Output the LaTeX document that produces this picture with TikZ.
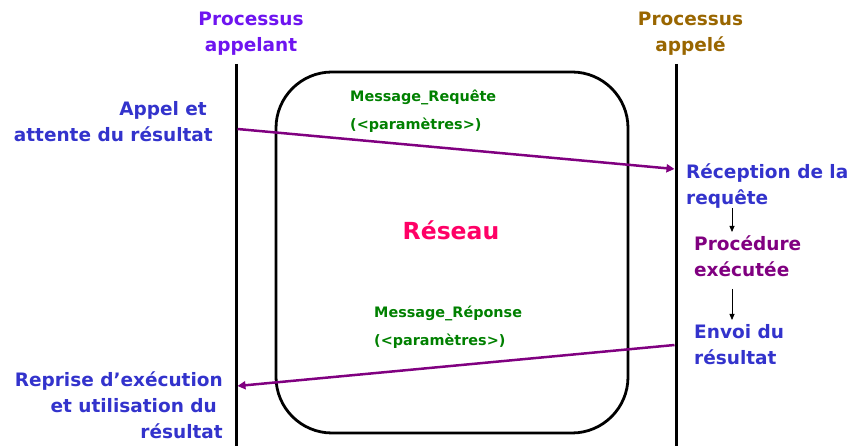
\documentclass[tikz,border=0pt]{standalone}
\usepackage{fontspec}
\setmainfont{DejaVu Sans}
\usetikzlibrary{arrows.meta}
\definecolor{appelant}{RGB}{110,20,240}
\definecolor{appele}{RGB}{153,102,0}
\definecolor{bleu}{RGB}{51,51,204}
\definecolor{violet}{RGB}{128,0,128}
\definecolor{vert}{RGB}{0,128,0}
\definecolor{rose}{RGB}{255,0,102}

\begin{document}
\begin{tikzpicture}[x=1pt,y=-1pt,
		txt/.style={inner sep=0pt,font=\fontsize{18.5}{26}\selectfont\bfseries},
		msg/.style={inner sep=0pt,text=vert,align=left,anchor=north west,font=\fontsize{14.4}{28}\selectfont\bfseries},
		axe/.style={line width=3pt},
		appel/.style={violet,line width=2.5pt,-{Triangle[length=8pt,width=8pt]}},
		etape/.style={line width=0.8pt,-{Triangle[length=6pt,width=5pt]}}]
			\useasboundingbox (0,0) rectangle (855,446);
			
			\node[txt,text=appelant,align=center,anchor=north] (a) at (251,12) {Processus\\appelant};
			\node[txt,text=appele,align=center,anchor=north] (b) at (690.5,12) {Processus\\appelé};
			\coordinate (h1) at (236,64);
			\coordinate (b1) at (236,446);
			\coordinate (h2) at (676,64);
			\coordinate (b2) at (676,446);
			\draw[axe] (h1) -- (b1);
			\draw[axe] (h2) -- (b2);
			
			\draw[line width=2.8pt,rounded corners=56pt] (276,72) rectangle (628,433);
			\node[text=rose,font=\fontsize{23.5}{28}\selectfont\bfseries,inner sep=0pt,anchor=base] (r) at (451,240) {Réseau};
			\node[msg] (m1) at (350,90) {Message\_Requête\\(<paramètres>)};
			\node[msg] (m2) at (374,306) {Message\_Réponse\\(<paramètres>)};
			
			\node[txt,text=bleu,align=right,anchor=north east] (c) at (213,101) {Appel et\kern6pt\\attente du résultat};
			\node[txt,text=bleu,align=left,anchor=north west] (d) at (686,164) {Réception de la\\requête};
			\node[txt,text=violet,align=left,anchor=north west] (e) at (694,236) {Procédure\\exécutée};
			\node[txt,text=bleu,align=left,anchor=north west] (f) at (694,324) {Envoi du\\résultat};
			\node[txt,text=bleu,align=right,anchor=north east] (g) at (223,372) {Reprise d’exécution\\et utilisation du\kern6pt\\résultat};
			
			\coordinate (s1) at (237.5,129);
			\coordinate (t1) at (674.5,169);
			\coordinate (s2) at (674.5,345);
			\coordinate (t2) at (237.5,386);
			\draw[appel] (s1) -- (t1);
			\draw[appel] (s2) -- (t2);
			
			\coordinate (p1) at (732,208);
			\coordinate (q1) at (732,232);
			\coordinate (p2) at (732,289);
			\coordinate (q2) at (732,320);
			\draw[etape] (p1) -- (q1);
			\draw[etape] (p2) -- (q2);
		\end{tikzpicture}
\end{document}
